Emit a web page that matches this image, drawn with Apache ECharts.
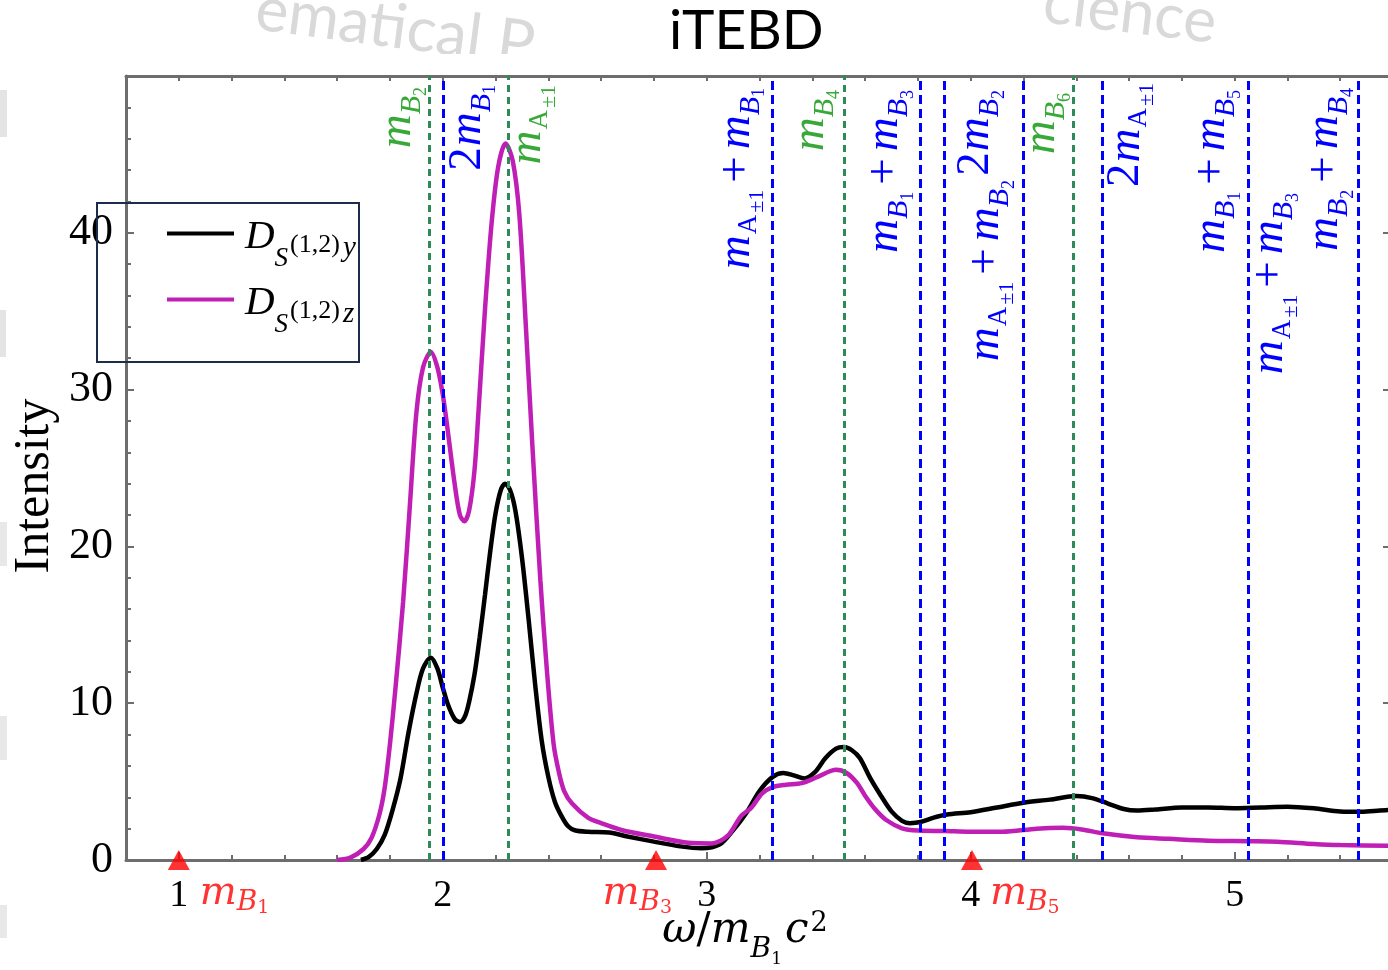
<!DOCTYPE html>
<html><head><meta charset="utf-8">
<script src="https://cdn.jsdelivr.net/npm/echarts@6/dist/echarts.min.js"></script>
<style>html,body{margin:0;padding:0;background:#fff}#c{width:1388px;height:970px}</style>
</head><body><div id="c"></div>
<script>
// ---------- data ----------
const omegaY = [1.69,1.72,1.75,1.78,1.81,1.84,1.87,1.90,1.925,1.955,1.98,2.00,2.02,2.045,2.065,2.085,2.10,2.12,2.14,2.16,2.18,2.20,2.22,2.236,2.255,2.275,2.30,2.325,2.35,2.375,2.40,2.425,2.45,2.475,2.50,2.55,2.63,2.70,2.80,2.90,2.98,3.05,3.10,3.15,3.20,3.25,3.29,3.33,3.37,3.41,3.45,3.49,3.52,3.55,3.58,3.62,3.66,3.70,3.74,3.77,3.81,3.86,3.91,4.00,4.10,4.20,4.30,4.40,4.46,4.52,4.58,4.63,4.70,4.80,4.90,5.00,5.10,5.20,5.30,5.40,5.48,5.55,5.60];
const intensityY = [0,0.2,0.7,1.6,3.2,5.2,8.1,10.6,12.2,12.9,12.2,11.0,9.9,9.0,8.8,9.2,10.1,11.8,14.2,16.9,19.7,22.1,23.6,24.0,23.6,22.3,19.3,15.4,11.2,7.6,5.3,3.7,2.8,2.15,1.9,1.8,1.75,1.5,1.17,0.87,0.75,1.0,1.9,3.0,4.4,5.3,5.55,5.4,5.2,5.6,6.5,7.1,7.2,7.0,6.5,5.2,4.1,3.1,2.5,2.35,2.42,2.7,2.9,3.05,3.35,3.65,3.85,4.08,3.95,3.6,3.25,3.15,3.22,3.35,3.35,3.3,3.35,3.4,3.3,3.1,3.08,3.15,3.2];
const omegaZ = [1.60,1.65,1.70,1.73,1.76,1.78,1.80,1.82,1.85,1.875,1.90,1.925,1.955,1.98,2.00,2.015,2.045,2.065,2.082,2.10,2.12,2.135,2.16,2.185,2.21,2.238,2.265,2.29,2.315,2.34,2.37,2.395,2.42,2.44,2.46,2.49,2.55,2.60,2.68,2.80,2.93,3.02,3.08,3.13,3.17,3.21,3.25,3.30,3.36,3.42,3.49,3.53,3.57,3.60,3.64,3.68,3.74,3.80,3.90,4.00,4.12,4.25,4.35,4.42,4.50,4.63,4.75,4.90,5.05,5.16,5.30,5.40,5.60];
const intensityZ = [0,0.15,0.7,1.4,2.9,4.6,7.4,10.8,16.5,22.5,28.5,31.4,32.4,31.4,29.7,27.9,24.0,22.0,21.6,22.3,24.8,28.5,35.1,40.6,44.2,45.7,44.6,41.2,34.0,26.3,17.8,12.0,7.4,5.6,4.4,3.6,2.7,2.35,1.9,1.5,1.1,1.06,1.55,2.8,3.35,4.25,4.65,4.8,4.9,5.3,5.75,5.55,4.9,4.1,3.2,2.55,2.02,1.88,1.85,1.8,1.8,2.0,2.05,1.95,1.7,1.45,1.35,1.23,1.2,1.17,1.02,0.95,0.9];
const seriesNames = ['D_S(1,2)y', 'D_S(1,2)z'];
const xTickValues = [1, 2, 3, 4, 5];
const yTickValues = [0, 10, 20, 30, 40];

// excitation energies (vertical reference lines)
const massLineValues = [1.952, 2.001, 2.250, 3.248, 3.518, 3.805, 3.902, 4.201, 4.387, 4.500, 5.052, 5.052, 5.467];
const massLineKinds  = ['single','pair','single','pair','single','pair','pair','pair','single','pair','pair','pair','pair'];
const massLineLabels = [
  '{m|m}{sb|B}{ss|2}',
  '{n|2}{m|m}{sb|B}{ss|1}',
  '{m|m}{sa|A}{sp|±1}',
  '{m|m}{sa|A}{sp|±1}{pl|+}{m|m}{sb|B}{ss|1}',
  '{m|m}{sb|B}{ss|4}',
  '{m|m}{sb|B}{ss|1}{pl|+}{m|m}{sb|B}{ss|3}',
  '{n|2}{m|m}{sb|B}{ss|2}',
  '{m|m}{sa|A}{sp|±1}{pl|+}{m|m}{sb|B}{ss|2}',
  '{m|m}{sb|B}{ss|6}',
  '{n|2}{m|m}{sa|A}{sp|±1}',
  '{m|m}{sb|B}{ss|1}{pl|+}{m|m}{sb|B}{ss|5}',
  '{m|m}{sa|A}{sp|±1}{pl|+}{m|m}{sb|B}{ss|3}',
  '{m|m}{sb|B}{ss|2}{pl|+}{m|m}{sb|B}{ss|4}'
];
// single-particle masses marked by triangles on the axis
const triangleValues = [1.0, 2.808, 4.005];
const triangleLabels = ['{m|m}{rB|B}{rs|1}', '{m|m}{rB|B}{rs|3}', '{m|m}{rB|B}{rs|5}'];

// ---------- layout (label placement) ----------
const labelSide  = ['L','R','R','L','L','L','R','L','L','R','L','R','L'];
const labelAlong = [11, 9, 9, 12, 14, 14, 14, 104, 17, 7, 14, 117, 12];
const labelOff   = [-1, 1, -5, 4, 0.5, 3.7, 7.7, 4.9, -0.7, 0, 3.7, -1.4, 1.5];
const triAlign   = ['left', 'right', 'left'];
const triDx      = [21, 16, 18];

const axisColor = '#6d6d6d';
const SERIF = 'Liberation Serif';
const MATH = 'DejaVu Serif';

const pairs = (xs, ys) => xs.map((x, i) => [x, ys[i]]);

const markData = massLineValues.map((v, i) => {
  const green = massLineKinds[i] === 'single';
  const left = labelSide[i] === 'L';
  return {
    xAxis: v,
    lineStyle: { color: green ? '#2e8b57' : '#0000ff', type: green ? [7, 5] : [9, 5], width: 3 },
    label: {
      show: true,
      position: left ? 'insideEndTop' : 'insideEndBottom',
      distance: [labelAlong[i], labelOff[i]],
      formatter: massLineLabels[i],
      color: green ? '#38a838' : '#0000ff'
    }
  };
});

const lblRich = {
  m:  { fontFamily: SERIF, fontStyle: 'italic', fontSize: 47, verticalAlign: 'top' },
  n:  { fontFamily: SERIF, fontSize: 47, verticalAlign: 'top', padding: [0, 1, 0, 1] },
  pl: { fontFamily: SERIF, fontSize: 47, verticalAlign: 'top', padding: [0, 7, 0, 7] },
  sb: { fontFamily: SERIF, fontStyle: 'italic', fontSize: 30, padding: [23, 0, 0, 0], verticalAlign: 'top' },
  sa: { fontFamily: SERIF, fontSize: 27, padding: [23.1, 0, 0, 1], verticalAlign: 'top' },
  ss: { fontFamily: SERIF, fontSize: 18, padding: [38, 0, 0, 0], verticalAlign: 'top' },
  sp: { fontFamily: SERIF, fontSize: 22, padding: [34, 0, 0, 2], verticalAlign: 'top' }
};

const triData = triangleValues.map((v, i) => ({
  value: [v, 0],
  label: {
    show: true, position: 'inside', formatter: triangleLabels[i],
    align: triAlign[i], verticalAlign: 'top', offset: [triDx[i], 14], color: '#ff0000'
  }
}));

const legendRich = {
  D: { fontFamily: SERIF, fontStyle: 'italic', fontSize: 41, padding: [23.6, 0, 15.4, 6], verticalAlign: 'top', color: '#000' },
  S: { fontFamily: SERIF, fontStyle: 'italic', fontSize: 27, padding: [52.3, 1, 0, 0], verticalAlign: 'top', color: '#000' },
  P: { fontFamily: SERIF, fontSize: 26, padding: [39.2, 3, 0, 1], verticalAlign: 'top', color: '#000' },
  v: { fontFamily: SERIF, fontStyle: 'italic', fontSize: 29, padding: [40.6, 0, 0, 0], verticalAlign: 'top', color: '#000' }
};
const legendBase = {
  orient: 'vertical', left: 165, padding: 0,
  itemWidth: 67, itemHeight: 14, selectedMode: false,
  itemStyle: { opacity: 0, borderWidth: 0 },
  lineStyle: { width: 4 },
  formatter: name => name === seriesNames[0]
    ? '{D|D}{S|S}{P|(1,2)}{v|y}' : '{D|D}{S|S}{P|(1,2)}{v|z}',
  textStyle: { color: '#000', rich: legendRich }
};

const chart = echarts.init(document.getElementById('c'), null, { renderer: 'canvas' });
const option = {
  animation: false,
  backgroundColor: '#ffffff',
  textStyle: { fontFamily: SERIF },
  title: {
    text: 'iTEBD', left: 669, top: 4, padding: 0,
    textStyle: { fontFamily: 'Lato', fontSize: 55, fontWeight: 'normal', color: '#000' }
  },
  grid: { left: 126, top: 76, width: 1267, height: 784, containLabel: false, outerBoundsMode: 'none' },
  legend: [
    Object.assign({}, legendBase, { data: [seriesNames[0]], top: 217 }),
    Object.assign({}, legendBase, { data: [seriesNames[1]], top: 283 })
  ],
  xAxis: [
    {
      type: 'value', position: 'bottom', min: 0.8, max: 5.6,
      axisLine: { show: true, onZero: false, lineStyle: { color: axisColor, width: 3 } },
      axisTick: { show: true, inside: true, length: 8, customValues: xTickValues, lineStyle: { color: axisColor, width: 2 } },
      axisLabel: { show: true, customValues: xTickValues, margin: 17, fontFamily: SERIF, fontSize: 38, color: '#000', formatter: v => String(v) },
      splitLine: { show: false },
      name: '{w|ω}{sl|/}{m|m}{B|B}{one|1}{c|c}{sup|2}',
      nameLocation: 'middle', nameGap: 50, nameMoveOverlap: false,
      nameTextStyle: {
        color: '#000', padding: [0, 29, 0, 0],
        rich: {
          w:   { fontFamily: MATH, fontStyle: 'italic', fontSize: 42, verticalAlign: 'top', color: '#000' },
          sl:  { fontFamily: MATH, fontSize: 42, verticalAlign: 'top', color: '#000' },
          m:   { fontFamily: MATH, fontStyle: 'italic', fontSize: 42, verticalAlign: 'top', color: '#000' },
          B:   { fontFamily: MATH, fontStyle: 'italic', fontSize: 28, padding: [26, 0, 0, 0], verticalAlign: 'top', color: '#000' },
          one: { fontFamily: MATH, fontSize: 17, padding: [41, 0, 0, 0], verticalAlign: 'top', color: '#000' },
          c:   { fontFamily: MATH, fontStyle: 'italic', fontSize: 42, padding: [0, 0, 0, 3], verticalAlign: 'top', color: '#000' },
          sup: { fontFamily: MATH, fontSize: 27, padding: [0, 0, 0, 2], verticalAlign: 'top', color: '#000' }
        }
      }
    },
    {
      type: 'value', position: 'bottom', min: 0.8, max: 5.6, interval: 0.2,
      axisLine: { show: false }, axisLabel: { show: false }, splitLine: { show: false },
      axisTick: { show: true, inside: true, length: 5, lineStyle: { color: axisColor, width: 2 } }
    },
    {
      type: 'value', position: 'top', min: 0.8, max: 5.6, interval: 0.2,
      axisLine: { show: true, onZero: false, lineStyle: { color: axisColor, width: 3 } },
      axisLabel: { show: false }, splitLine: { show: false },
      axisTick: { show: true, inside: true, length: 5, lineStyle: { color: axisColor, width: 2 } }
    }
  ],
  yAxis: [
    {
      type: 'value', position: 'left', min: 0, max: 50, interval: 10,
      axisLine: { show: true, onZero: false, lineStyle: { color: axisColor, width: 3 } },
      axisTick: { show: true, inside: true, length: 8, lineStyle: { color: axisColor, width: 2 } },
      axisLabel: { show: true, margin: 13, fontFamily: SERIF, fontSize: 44, color: '#000', showMaxLabel: false,
        formatter: v => yTickValues.indexOf(v) >= 0 ? String(v) : '' },
      splitLine: { show: false },
      name: 'Intensity', nameLocation: 'middle', nameGap: 66, nameMoveOverlap: false,
      nameTextStyle: { fontFamily: SERIF, fontSize: 50, color: '#000', padding: [0, 36, 0, 0] }
    },
    {
      type: 'value', position: 'left', min: 0, max: 50, interval: 2,
      axisLine: { show: false }, axisLabel: { show: false }, splitLine: { show: false },
      axisTick: { show: true, inside: true, length: 5, lineStyle: { color: axisColor, width: 2 } }
    },
    {
      type: 'value', position: 'right', min: 0, max: 50, interval: 10,
      axisLine: { show: true, onZero: false, lineStyle: { color: axisColor, width: 3 } },
      axisLabel: { show: false }, splitLine: { show: false },
      axisTick: { show: true, inside: true, length: 10, lineStyle: { color: axisColor, width: 2 } }
    }
  ],
  series: [
    {
      name: seriesNames[0], type: 'line', xAxisIndex: 0, yAxisIndex: 0,
      data: pairs(omegaY, intensityY), symbol: 'none', showSymbol: false,
      smooth: 0.3,
      lineStyle: { color: '#000000', width: 4.5 }, itemStyle: { color: '#000000' }, z: 3
    },
    {
      name: seriesNames[1], type: 'line', xAxisIndex: 0, yAxisIndex: 0,
      data: pairs(omegaZ, intensityZ), symbol: 'none', showSymbol: false,
      smooth: 0.3,
      lineStyle: { color: '#c01fb6', width: 4.5 }, itemStyle: { color: '#c01fb6' }, z: 3
    },
    {
      name: 'mass lines', type: 'line', xAxisIndex: 0, yAxisIndex: 0, data: [], z: 4,
      markLine: {
        silent: true, symbol: ['none', 'none'], animation: false,
        label: { show: true, rich: lblRich },
        data: markData
      }
    },
    {
      name: 'masses', type: 'scatter', xAxisIndex: 0, yAxisIndex: 0, clip: false, z: 5,
      symbol: 'triangle', symbolSize: [22, 20], itemStyle: { color: '#ff0000' },
      data: triData,
      label: {
        rich: {
          m:  { fontFamily: MATH, fontStyle: 'italic', fontSize: 39, verticalAlign: 'top', color: '#ff0000' },
          rB: { fontFamily: MATH, fontStyle: 'italic', fontSize: 28, padding: [15, 0, 0, 0], verticalAlign: 'top', color: '#ff0000' },
          rs: { fontFamily: MATH, fontSize: 19, padding: [25, 0, 0, 0], verticalAlign: 'top', color: '#ff0000' }
        }
      }
    }
  ],
  graphic: [
    { type: 'text', x: 252, y: 40, rotation: -0.13, z: -10, silent: true,
      style: { text: 'ematical P', fontFamily: 'Lato', fontSize: 62, fill: '#d9d9d9', align: 'left', verticalAlign: 'bottom' } },
    { type: 'text', x: 1040, y: 33, rotation: -0.12, z: -10, silent: true,
      style: { text: 'cience', fontFamily: 'Lato', fontSize: 62, fill: '#d9d9d9', align: 'left', verticalAlign: 'bottom' } },
    { type: 'rect', z: -5, silent: true, shape: { x: 556, y: 0, width: 482, height: 74 }, style: { fill: '#ffffff' } },
    { type: 'rect', z: -5, silent: true, shape: { x: 200, y: 54, width: 360, height: 21 }, style: { fill: '#ffffff' } },
    { type: 'rect', z: -4, silent: true, shape: { x: 0, y: 90, width: 7, height: 47 }, style: { fill: '#e4e4e4' } },
    { type: 'rect', z: -4, silent: true, shape: { x: 0, y: 310, width: 6, height: 47 }, style: { fill: '#e4e4e4' } },
    { type: 'rect', z: -4, silent: true, shape: { x: 0, y: 522, width: 7, height: 44 }, style: { fill: '#e8e8e8' } },
    { type: 'rect', z: -4, silent: true, shape: { x: 0, y: 716, width: 7, height: 44 }, style: { fill: '#e8e8e8' } },
    { type: 'rect', z: -4, silent: true, shape: { x: 0, y: 905, width: 7, height: 33 }, style: { fill: '#e8e8e8' } },
    { type: 'rect', z: 10, silent: true, shape: { x: 97, y: 203, width: 262, height: 159 },
      style: { fill: 'none', stroke: '#1d2c4c', lineWidth: 2 } }
  ]
};
chart.setOption(option);
</script>
</body></html>
